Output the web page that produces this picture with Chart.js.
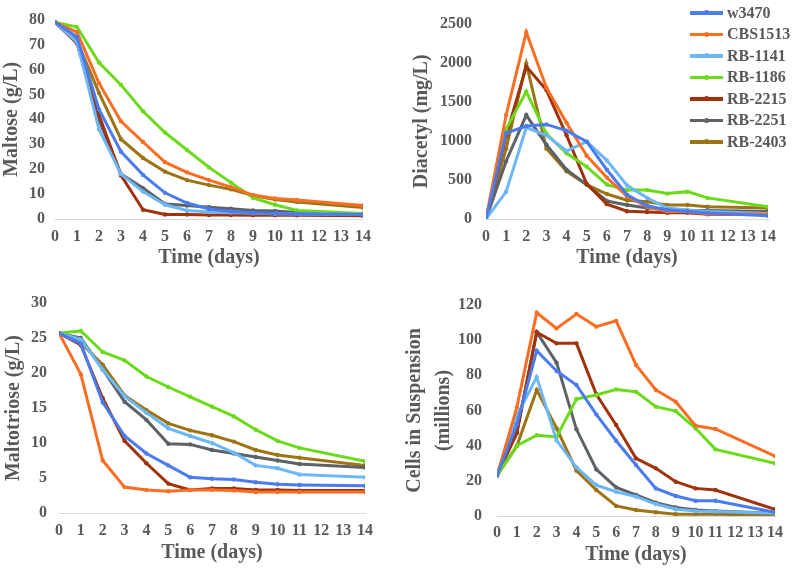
<!DOCTYPE html>
<html>
<head>
<meta charset="utf-8">
<script src="https://cdn.jsdelivr.net/npm/chart.js@4/dist/chart.umd.min.js"></script>
<style>
  html, body { margin: 0; padding: 0; background: #fff; }
  body { width: 792px; height: 568px; position: relative; overflow: hidden; }
  .box { position: absolute; }
  #legend { position: absolute; left: 690px; top: 2px; font-family: "Liberation Serif", "Times New Roman", serif; font-weight: bold; font-size: 16px; color: #595959; }
  .li { height: 21.5px; display: flex; align-items: center; white-space: nowrap; }
  .sw { position: relative; width: 33px; height: 3.5px; margin-right: 4px; }
  .sw i { position: absolute; left: 14px; top: -1px; width: 5px; height: 5px; border-radius: 50%; }
</style>
</head>
<body>
<div class="box" style="left:0;top:0;width:400px;height:280px"><canvas id="c1"></canvas></div>
<div class="box" style="left:400px;top:0;width:392px;height:280px"><canvas id="c2"></canvas></div>
<div class="box" style="left:0;top:280px;width:400px;height:288px"><canvas id="c3"></canvas></div>
<div class="box" style="left:400px;top:280px;width:392px;height:288px"><canvas id="c4"></canvas></div>
<div id="legend"></div>
<script>
// ---- data ----
const days = [0, 1, 2, 3, 4, 5, 6, 7, 8, 9, 10, 11, 14];
const strains = ['w3470', 'CBS1513', 'RB-1141', 'RB-1186', 'RB-2215', 'RB-2251', 'RB-2403'];
const strainColors = ['#4A7CF0', '#FA6E23', '#6CB7F7', '#6BDA1A', '#A0320C', '#5C6266', '#9C7414'];
const xTicks = [0, 1, 2, 3, 4, 5, 6, 7, 8, 9, 10, 11, 12, 13, 14];

// Maltose (g/L)
const maltoseW3470   = [79, 73, 44, 27, 17.7, 10.5, 6.4, 4, 3, 2.5, 2.2, 2.1, 1.8];
const maltoseCBS1513 = [79, 75, 54.5, 39.2, 30.9, 22.8, 18.7, 15.6, 12.8, 9.6, 8.2, 7.6, 5.4];
const maltoseRB1141  = [79, 71, 36, 18, 11, 5.7, 3.4, 2.8, 2.6, 2.3, 2.1, 2, 1.8];
const maltoseRB1186  = [79, 77, 62.8, 53.8, 43.2, 34.7, 27.7, 20.7, 14.6, 8.5, 5.7, 3.4, 2.2];
const maltoseRB2215  = [79, 70.4, 41.7, 17.5, 3.7, 1.8, 1.8, 1.6, 1.6, 1.5, 1.5, 1.5, 1.3];
const maltoseRB2251  = [79, 71, 39.8, 18, 12.4, 6, 5.4, 4.7, 4.1, 3.4, 3.2, 2.6, 2];
const maltoseRB2403  = [79, 71.5, 50.6, 32, 24.5, 19, 15.6, 13.6, 11.9, 9.4, 7.8, 6.8, 4.6];

// Diacetyl (mg/L)
const diacetylW3470   = [0, 1100, 1190, 1210, 1130, 990, 630, 310, 170, 116, 100, 76, 40];
const diacetylCBS1513 = [0, 1330, 2390, 1680, 1230, 810, 530, 290, 156, 96, 96, 68, 60];
const diacetylRB1141  = [0, 350, 1170, 1070, 870, 990, 750, 430, 270, 140, 116, 96, 70];
const diacetylRB1186  = [0, 1150, 1630, 1090, 840, 670, 440, 370, 370, 325, 350, 270, 156];
const diacetylRB2215  = [0, 1070, 1950, 1650, 1070, 450, 190, 100, 90, 80, 80, 60, 56];
const diacetylRB2251  = [0, 740, 1330, 950, 630, 440, 230, 180, 140, 128, 108, 108, 96];
const diacetylRB2403  = [0, 900, 1990, 900, 610, 440, 320, 240, 220, 180, 180, 156, 140];

// Maltotriose (g/L)
const maltotrioseW3470   = [25.7, 24.2, 15.8, 11, 8.5, 6.8, 5.1, 4.9, 4.8, 4.4, 4.1, 4.0, 3.9];
const maltotrioseCBS1513 = [25.7, 19.8, 7.5, 3.7, 3.3, 3.1, 3.3, 3.3, 3.2, 3.0, 3.0, 3.0, 3.0];
const maltotrioseRB1141  = [25.7, 24.8, 20.5, 16.7, 14.3, 12.1, 11, 10, 8.6, 6.8, 6.4, 5.5, 5.1];
const maltotrioseRB1186  = [25.7, 26, 23, 21.8, 19.5, 18, 16.6, 15.2, 13.8, 11.9, 10.3, 9.3, 7.4];
const maltotrioseRB2215  = [25.7, 24, 16.4, 10.3, 7.1, 4.2, 3.3, 3.5, 3.5, 3.3, 3.3, 3.2, 3.2];
const maltotrioseRB2251  = [25.7, 25, 20.5, 15.9, 13.3, 9.9, 9.8, 9, 8.5, 8, 7.5, 7.0, 6.5];
const maltotrioseRB2403  = [25.7, 24.3, 21.2, 16.8, 14.7, 12.8, 11.8, 11.1, 10.2, 9, 8.3, 7.9, 6.8];

// Cells in suspension (millions)
const cellsW3470   = [23, 52, 94, 82.5, 74.5, 57.8, 42.8, 29, 15.7, 11.4, 8.7, 8.7, 2.1];
const cellsCBS1513 = [23, 61.8, 115.6, 106.7, 114.9, 107.7, 111, 85.9, 71.7, 65, 51.4, 49.5, 34.1];
const cellsRB1141  = [23, 57, 79, 43, 27.7, 17.6, 13.8, 11, 6.8, 3.8, 2.8, 2.5, 1.5];
const cellsRB1186  = [23, 40, 45.9, 45, 66.5, 68.8, 72, 70.7, 62.2, 59.7, 49.9, 37.9, 30];
const cellsRB2215  = [23, 47, 104.5, 98.2, 98.2, 69.2, 51.8, 32.8, 27.1, 19.5, 15.7, 14.8, 3.8];
const cellsRB2251  = [23, 48, 104.5, 87.2, 49.3, 26.5, 16.3, 12, 7.6, 4.9, 3.4, 2.8, 1.5];
const cellsRB2403  = [23, 39.8, 71.7, 49.9, 25.8, 14.8, 5.7, 3.4, 2.1, 1, 1, 1, 0.4];

// ---- chart building ----
const FONT = "'Liberation Serif', 'Times New Roman', serif";
const TEXT = '#595959';

function buildDatasets(seriesList) {
  return seriesList.map((vals, i) => ({
    label: strains[i],
    data: vals.map((v, k) => ({ x: days[k], y: v })),
    borderColor: strainColors[i],
    backgroundColor: strainColors[i],
    borderWidth: 3,
    pointRadius: 2.2,
    pointBorderWidth: 0,
    pointHoverRadius: 2.2,
    tension: 0,
    fill: false
  }));
}

function makeChart(id, seriesList, cfg) {
  new Chart(document.getElementById(id), {
    type: 'line',
    data: { datasets: buildDatasets(seriesList) },
    options: {
      responsive: true,
      maintainAspectRatio: false,
      animation: false,
      events: [],
      layout: { padding: { left: 0, top: cfg.padTop, right: cfg.padRight, bottom: 0 } },
      plugins: { legend: { display: false }, tooltip: { enabled: false } },
      scales: {
        x: {
          type: 'linear', min: 0, max: 14,
          afterBuildTicks: (s) => { s.ticks = xTicks.map(v => ({ value: v })); },
          afterFit: (s) => { s.height = cfg.xHeight; },
          grid: { display: false, drawTicks: false },
          border: { display: true, color: '#D9D9D9', width: 1 },
          ticks: { color: TEXT, font: { family: FONT, size: 16, weight: 'bold' }, padding: cfg.xTickPad, maxRotation: 0, autoSkip: false },
          title: { display: true, text: 'Time (days)', color: TEXT, font: { family: FONT, size: 20, weight: 'bold' }, padding: { top: 0, bottom: cfg.xTitlePad } }
        },
        y: {
          min: 0, max: cfg.yMax,
          afterFit: (s) => { s.width = cfg.yWidth; },
          grid: { display: false, drawTicks: false },
          border: { display: false },
          ticks: { stepSize: cfg.yStep, color: TEXT, font: { family: FONT, size: 16, weight: 'bold' }, padding: cfg.yTickPad, callback: (v) => String(v) },
          title: { display: true, text: cfg.yTitle, color: TEXT, font: { family: FONT, size: 20, weight: 'bold', lineHeight: cfg.yTitleLH || 1.2 }, padding: { top: cfg.yTitlePad, bottom: 0 } }
        }
      }
    }
  });
}

makeChart('c1', [maltoseW3470, maltoseCBS1513, maltoseRB1141, maltoseRB1186, maltoseRB2215, maltoseRB2251, maltoseRB2403], {
  yMax: 80, yStep: 10, yTitle: 'Maltose (g/L)',
  padTop: 10, padRight: 37, yWidth: 55, xHeight: 61, yTickPad: 10, xTickPad: 8, xTitlePad: 10, yTitlePad: 0
});
makeChart('c2', [diacetylW3470, diacetylCBS1513, diacetylRB1141, diacetylRB1186, diacetylRB2215, diacetylRB2251, diacetylRB2403], {
  yMax: 2500, yStep: 500, yTitle: 'Diacetyl (mg/L)',
  padTop: 11, padRight: 24, yWidth: 86, xHeight: 61, yTickPad: 14, xTickPad: 8, xTitlePad: 10, yTitlePad: 10
});
makeChart('c3', [maltotrioseW3470, maltotrioseCBS1513, maltotrioseRB1141, maltotrioseRB1186, maltotrioseRB2215, maltotrioseRB2251, maltotrioseRB2403], {
  yMax: 30, yStep: 5, yTitle: 'Maltotriose (g/L)',
  padTop: 23, padRight: 35, yWidth: 59, xHeight: 55, yTickPad: 12, xTickPad: 8, xTitlePad: 3, yTitlePad: 2
});
makeChart('c4', [cellsW3470, cellsCBS1513, cellsRB1141, cellsRB1186, cellsRB2215, cellsRB2251, cellsRB2403], {
  yMax: 120, yStep: 20, yTitle: ['Cells in Suspension', '(millions)'],
  padTop: 25, padRight: 17, yWidth: 97, xHeight: 52, yTickPad: 15, xTickPad: 7, xTitlePad: 1, yTitlePad: 0, yTitleLH: 1.45
});

// ---- legend (HTML text) ----
const legend = document.getElementById('legend');
strains.forEach((name, i) => {
  const row = document.createElement('div');
  row.className = 'li';
  const sw = document.createElement('span');
  sw.className = 'sw';
  sw.style.background = strainColors[i];
  const dot = document.createElement('i');
  dot.style.background = strainColors[i];
  sw.appendChild(dot);
  row.appendChild(sw);
  row.appendChild(document.createTextNode(name));
  legend.appendChild(row);
});
</script>
</body>
</html>
